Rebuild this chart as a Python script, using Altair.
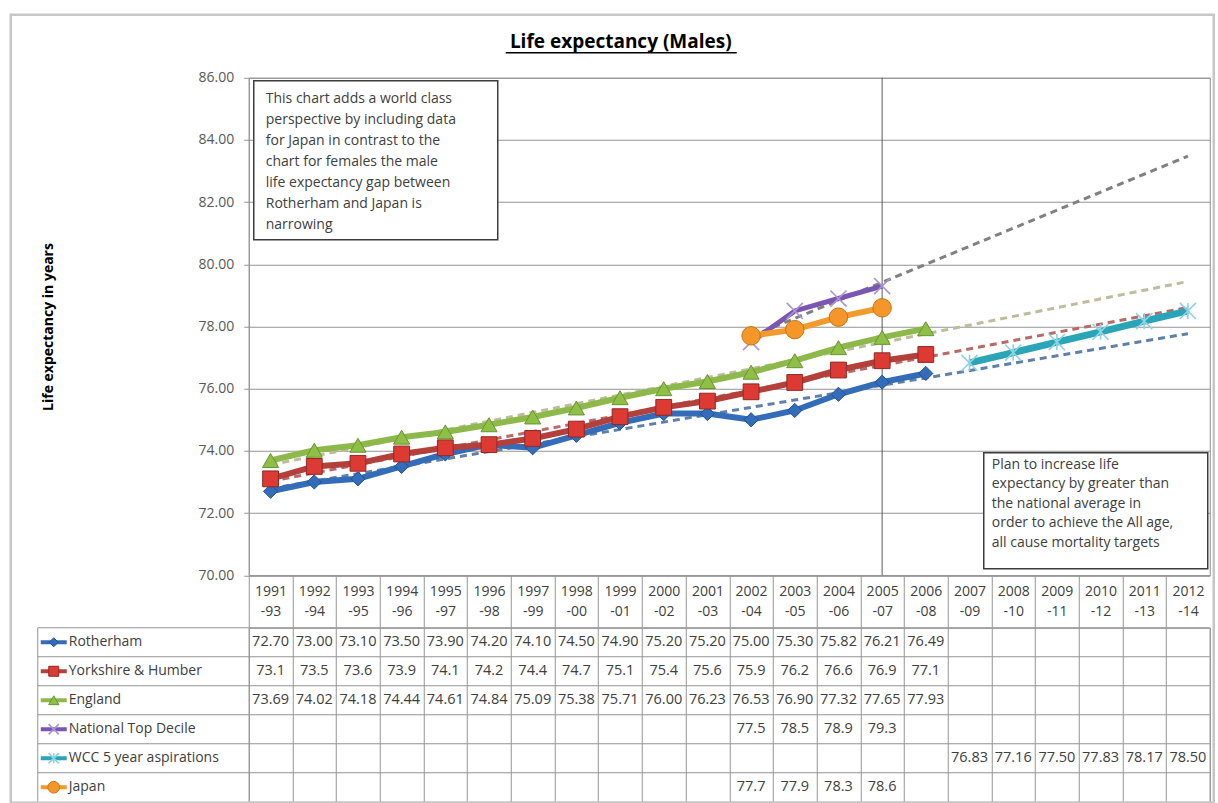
import json

import altair as alt
import pandas as pd

# ---------------------------------------------------------------- data
periods = [
    "1991-93", "1992-94", "1993-95", "1994-96", "1995-97", "1996-98",
    "1997-99", "1998-00", "1999-01", "2000-02", "2001-03", "2002-04",
    "2003-05", "2004-06", "2005-07", "2006-08", "2007-09", "2008-10",
    "2009-11", "2010-12", "2011-13", "2012-14",
]

series_names = [
    "Rotherham",
    "Yorkshire & Humber",
    "England",
    "National Top Decile",
    "WCC 5 year aspirations",
    "Japan",
]

rotherham = [72.70, 73.00, 73.10, 73.50, 73.90, 74.20, 74.10, 74.50, 74.90, 75.20, 75.20,
             75.00, 75.30, 75.82, 76.21, 76.49, None, None, None, None, None, None]
yorkshire = [73.1, 73.5, 73.6, 73.9, 74.1, 74.2, 74.4, 74.7, 75.1, 75.4, 75.6,
             75.9, 76.2, 76.6, 76.9, 77.1, None, None, None, None, None, None]
england = [73.69, 74.02, 74.18, 74.44, 74.61, 74.84, 75.09, 75.38, 75.71, 76.00, 76.23,
           76.53, 76.90, 77.32, 77.65, 77.93, None, None, None, None, None, None]
top_decile = [None, None, None, None, None, None, None, None, None, None, None,
              77.5, 78.5, 78.9, 79.3, None, None, None, None, None, None, None]
wcc_aspirations = [None, None, None, None, None, None, None, None, None, None, None,
                   None, None, None, None, None, 76.83, 77.16, 77.50, 77.83, 78.17, 78.50]
japan = [None, None, None, None, None, None, None, None, None, None, None,
         77.7, 77.9, 78.3, 78.6, None, None, None, None, None, None, None]

series_values = [rotherham, yorkshire, england, top_decile, wcc_aspirations, japan]
# decimals shown in the data table for each series
table_decimals = [2, 1, 2, 1, 2, 1]
# series that carry a linear trend projected to the last period
trend_series = ["Rotherham", "Yorkshire & Humber", "England", "National Top Decile"]
marker_year = "2005-07"

title_text = "Life expectancy (Males)"
y_title = "Life expectancy in years"
note_left = ("This chart adds a world class\nperspective by including  data\n"
             "for Japan in contrast to the\nchart for females  the  male\n"
             "life expectancy gap between\nRotherham and Japan is\nnarrowing")
note_right = ("Plan to increase life\nexpectancy by greater than\n"
              "the national average in\norder to achieve the All age,\n"
              "all cause mortality targets")

# ---------------------------------------------------------------- styles
styles = {
    "Rotherham": dict(line="#336cb8", width=6, shape="diamond", size=200,
                      fill="#336cb8", stroke="#24518f", sw=1, trend="#5f80ab"),
    "Yorkshire & Humber": dict(line="#b3403b", width=6, shape="square", size=250,
                               fill="#dc3a33", stroke="#8e2a26", sw=1, trend="#b86a68"),
    "England": dict(line="#8cb94a", width=6, shape="triangle-up", size=260,
                    fill="#8fc046", stroke="#6a9433", sw=1, trend="#bcbd9c"),
    "National Top Decile": dict(line="#7b55b2", width=5, shape="M-1,-1L1,1M-1,1L1,-1",
                                size=260, fill="#a995d4", stroke="#a995d4", sw=1.6,
                                trend="#808080"),
    "WCC 5 year aspirations": dict(line="#2aa5b7", width=7,
                                   shape="M-1,-1L1,1M-1,1L1,-1M0,-1L0,1", size=260,
                                   fill="#8fd2e2", stroke="#8fd2e2", sw=1.6, trend=None),
    "Japan": dict(line="#f39a2c", width=6, shape="circle", size=340,
                  fill="#f4962a", stroke="#c87415", sw=1, trend=None),
}

FONT = "Open Sans"
GRID = "#959595"
TEXT = "#404040"

W = 961            # plot width (22 columns)
H_PLOT = 497.5     # 70 .. 86
H_HEAD = 52        # header row under the plot
H_TABLE = 174      # 6 table rows
COL = W / len(periods)
LABEL_COL = 211    # width of the series-name column left of the table

rows = []
for name, vals, dec in zip(series_names, series_values, table_decimals):
    for i, v in enumerate(vals):
        if v is not None:
            rows.append({"series": name, "idx": i, "period": periods[i],
                         "value": v, "label": f"{v:.{dec}f}"})
df = pd.DataFrame(rows)
names_df = pd.DataFrame({"series": series_names})
one = pd.DataFrame({"k": [0]})

last_idx = len(periods) - 1
col_centers = list(range(len(periods) + 1))       # last one only closes the header
col_edges = [i - 0.5 for i in range(len(periods) + 1)]

x_scale = alt.Scale(domain=[-0.5, last_idx + 0.5], nice=False, zero=False)
y_scale = alt.Scale(domain=[70, 86], nice=False, zero=False)

period_js = json.dumps(periods)
header_expr = (
    f"datum.value > {last_idx} ? '' : "
    f"[substring({period_js}[datum.value], 0, 4), "
    f"substring({period_js}[datum.value], 4)]"
)

header_axis = alt.Axis(
    values=col_centers, labelExpr=header_expr, title=None, grid=False,
    tickSize=H_HEAD, tickColor=GRID, domainColor=GRID,
    tickOffset=-COL / 2, labelOffset=COL / 2,
    labelPadding=-43, labelBaseline="top", labelAlign="center",
    labelFontSize=14, labelColor=TEXT, labelLineHeight=20,
    labelOverlap=False, labelFlush=False, labelBound=False,
)
y_axis = alt.Axis(
    values=list(range(70, 87, 2)), format=".2f", grid=True, gridColor=GRID,
    gridWidth=1.2, tickSize=5, tickColor=GRID, domainColor=GRID,
    labelPadding=10, labelFontSize=14, labelColor="#595959",
    title=y_title, titleFontSize=14, titleFontWeight="bold", titleColor="#000000",
    titleX=-200, titleY=H_PLOT / 2, titleAlign="center", titleBaseline="middle",
    titleAngle=270,
)

x_enc = alt.X("idx:Q", scale=x_scale, axis=header_axis)
y_enc = alt.Y("value:Q", scale=y_scale, axis=y_axis)

# ---------------------------------------------------------------- chart
layers = []

# vertical marker at the latest observed period
marker_df = pd.DataFrame({"idx": [periods.index(marker_year)]})
layers.append(
    alt.Chart(marker_df).mark_rule(color="#5a5a5a", strokeWidth=1).encode(
        x=x_enc, y=alt.value(0), y2=alt.value(H_PLOT))
)

# dashed linear trends projected to the last period
for name in trend_series:
    sub = df[df.series == name]
    start = int(sub.idx.min())
    layers.append(
        alt.Chart(sub).transform_regression(
            "idx", "value", groupby=["series"], extent=[start, last_idx]
        ).mark_line(color=styles[name]["trend"], strokeWidth=3, strokeDash=[7, 5]).encode(
            x=x_enc, y=y_enc)
    )

# observed / planned series
for name in series_names:
    st = styles[name]
    sub = df[df.series == name]
    layers.append(
        alt.Chart(sub).mark_line(color=st["line"], strokeWidth=st["width"]).encode(
            x=x_enc, y=y_enc, order="idx:Q")
    )
    layers.append(
        alt.Chart(sub).mark_point(
            shape=st["shape"], size=st["size"], filled=True, fill=st["fill"],
            stroke=st["stroke"], strokeWidth=st["sw"], opacity=1,
        ).encode(x=x_enc, y=y_enc)
    )

# annotation boxes
def note(text, x0, x1, y0, y1, tx, ty, lh):
    box = alt.Chart(one).mark_rect(fill="white", stroke="#3c3c3c", strokeWidth=1.5).encode(
        x=alt.value(x0), x2=alt.value(x1), y=alt.value(y0), y2=alt.value(y1))
    txt = alt.Chart(pd.DataFrame({"t": [text]})).mark_text(
        align="left", baseline="top", lineBreak="\n", lineHeight=lh,
        fontSize=14, color=TEXT, font=FONT,
    ).encode(x=alt.value(tx), y=alt.value(ty), text="t:N")
    return [box, txt]

layers += note(note_left, 5, 249, 3, 162, 17, 14, 21)
layers += note(note_right, 735, 959, 375, 491, 743, 380, 19.5)

# title with underline
layers.append(
    alt.Chart(pd.DataFrame({"t": [title_text]})).mark_text(
        fontSize=19, fontWeight="bold", color="#000000", font=FONT, baseline="middle",
    ).encode(x=alt.value(372), y=alt.value(-36), text="t:N")
)
layers.append(
    alt.Chart(one).mark_rule(color="#000000", strokeWidth=1.5).encode(
        x=alt.value(257), x2=alt.value(488), y=alt.value(-25))
)

plot = alt.layer(*layers).properties(width=W, height=H_PLOT)

# ---------------------------------------------------------------- data table
row_scale = alt.Scale(domain=series_names, paddingInner=0, paddingOuter=0)
row_mid = alt.Y("series:N", scale=row_scale, axis=None, bandPosition=0.5)
row_top = alt.Y("series:N", scale=row_scale, axis=None, bandPosition=0)
col_axis = alt.Axis(values=col_edges, grid=True, gridColor=GRID, labels=False,
                    ticks=False, domain=False, title=None)
x_tab = alt.X("idx:Q", scale=x_scale, axis=col_axis)

tlayers = []
tlayers.append(
    alt.Chart(df).mark_text(fontSize=14.5, color=TEXT, font=FONT, baseline="middle").encode(
        x=x_tab, y=row_mid, text="label:N")
)
tlayers.append(
    alt.Chart(names_df).mark_rule(color=GRID, strokeWidth=1).encode(
        y=row_top, x=alt.value(-LABEL_COL), x2=alt.value(W))
)
tlayers.append(
    alt.Chart(one).mark_rule(color=GRID, strokeWidth=1).encode(
        x=alt.value(-LABEL_COL), y=alt.value(0), y2=alt.value(H_TABLE))
)
tlayers.append(
    alt.Chart(names_df).mark_text(align="left", baseline="middle", fontSize=14,
                                  color=TEXT, font=FONT).encode(
        x=alt.value(-LABEL_COL + 31), y=row_mid, text="series:N")
)
for name in series_names:
    st = styles[name]
    sub = names_df[names_df.series == name]
    tlayers.append(
        alt.Chart(sub).mark_rule(color=st["line"], strokeWidth=4).encode(
            y=row_mid, x=alt.value(-LABEL_COL + 3), x2=alt.value(-LABEL_COL + 29))
    )
    tlayers.append(
        alt.Chart(sub).mark_point(
            shape=st["shape"], size=st["size"] * 0.4, filled=True, fill=st["fill"],
            stroke=st["stroke"], strokeWidth=st["sw"], opacity=1,
        ).encode(y=row_mid, x=alt.value(-LABEL_COL + 16))
    )

# outer frame around the whole chart
tlayers.append(
    alt.Chart(one).mark_rect(fillOpacity=0, stroke="#c6c6c6", strokeWidth=2.5).encode(
        x=alt.value(-238), x2=alt.value(W + 4),
        y=alt.value(-(H_PLOT + H_HEAD) - 63.5), y2=alt.value(H_TABLE + 1))
)

table = alt.layer(*tlayers).properties(width=W, height=H_TABLE)

chart = alt.vconcat(plot, table, spacing=H_HEAD, bounds="flush").properties(
    padding={"left": 8.75, "top": 12.75, "right": 0, "bottom": 0},
    background="white",
).configure(font=FONT).configure_view(stroke="#8c8c8c", strokeWidth=1)

chart.save("out.html", embed_options={"renderer": "svg", "actions": False})
